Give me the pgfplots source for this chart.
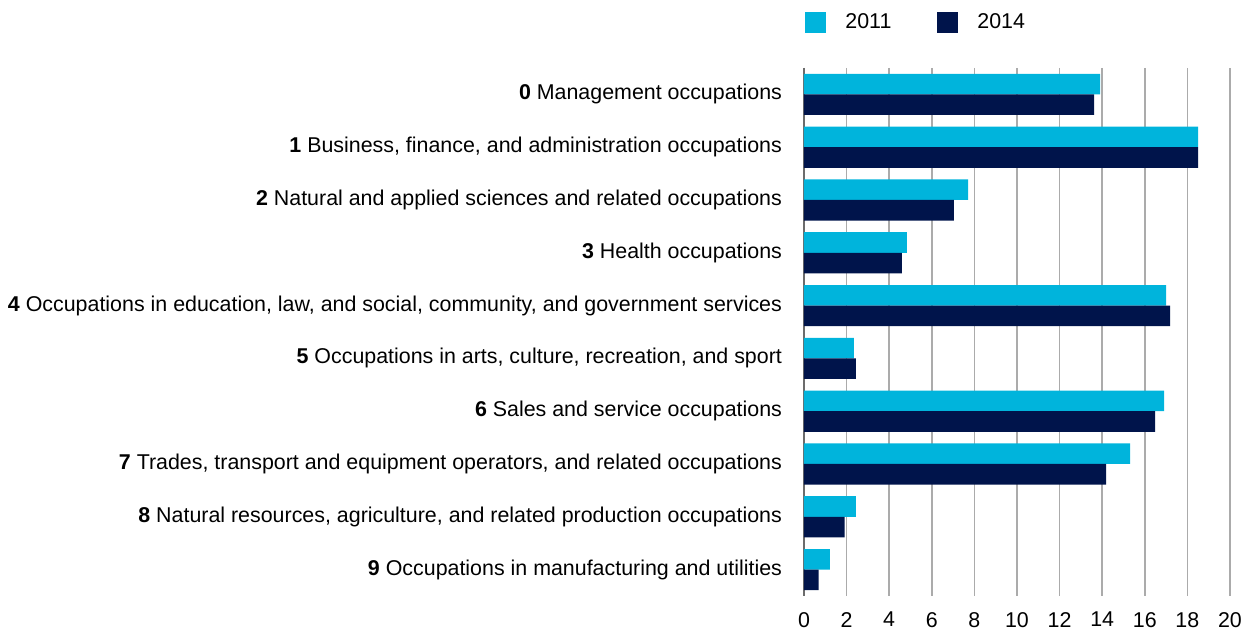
\documentclass[border=0pt]{standalone}
\usepackage{pgfplots}
\pgfplotsset{compat=1.18}
\usepackage{fontspec}
\setmainfont{Liberation Sans}
\definecolor{c2011}{HTML}{00B4DC}
\definecolor{c2014}{HTML}{00144B}
\definecolor{gridc}{HTML}{ABABAB}

\begin{document}
\begin{tikzpicture}
\path[use as bounding box] (0,0) rectangle (625pt,316pt);
\begin{axis}[
  at={(402pt,18pt)}, anchor=south west,
  scale only axis, width=213pt, height=264pt,
  xmin=0, xmax=20, ymin=-0.5, ymax=9.5,
  y dir=reverse,
  xtick={0,2,...,20},
  ytick={0,...,9},
  yticklabels={
    {\textbf{0} Management occupations},
    {\textbf{1} Business, finance, and administration occupations},
    {\textbf{2} Natural and applied sciences and related occupations},
    {\textbf{3} Health occupations},
    {\textbf{4} Occupations in education, law, and social, community, and government services},
    {\textbf{5} Occupations in arts, culture, recreation, and sport},
    {\textbf{6} Sales and service occupations},
    {\textbf{7} Trades, transport and equipment operators, and related occupations},
    {\textbf{8} Natural resources, agriculture, and related production occupations},
    {\textbf{9} Occupations in manufacturing and utilities}},
  extra x ticks={0}, extra x tick labels={},
  extra x tick style={grid style={gray!85!black, line width=1.2pt}},
  major tick length=0pt,
  xmajorgrids,
  grid style={gridc, line width=0.8pt},
  axis line style={draw=none},
  yticklabel style={font=\fontsize{10.7pt}{12pt}\selectfont, xshift=-7.5pt},
  xticklabel style={font=\fontsize{10.7pt}{12pt}\selectfont, yshift=-4.5pt},
  /pgf/number format/assume math mode=true,
  xbar, bar width=0.39,
  legend columns=2,
  legend style={at={(rel axis cs:0,1)}, anchor=south west, yshift=14pt, xshift=-2.5pt,
    draw=none, font=\fontsize{10.7pt}{12pt}\selectfont,
    column sep=7.5pt, /tikz/every even column/.append style={column sep=21pt}},
  legend image code/.code={\fill[#1] (0pt,-5.25pt) rectangle (10.5pt,5.25pt);},
]
\addplot[draw=none, fill=c2011, bar shift=-0.195] coordinates {
  (13.9,0) (18.5,1) (7.7,2) (4.83,3) (17.0,4)
  (2.34,5) (16.91,6) (15.31,7) (2.43,8) (1.21,9)
};
\addlegendentry{2011}
\addplot[draw=none, fill=c2014, bar shift=0.195] coordinates {
  (13.62,0) (18.5,1) (7.04,2) (4.59,3) (17.19,4)
  (2.43,5) (16.49,6) (14.18,7) (1.91,8) (0.69,9)
};
\addlegendentry{2014}
\end{axis}
\end{tikzpicture}
\end{document}
